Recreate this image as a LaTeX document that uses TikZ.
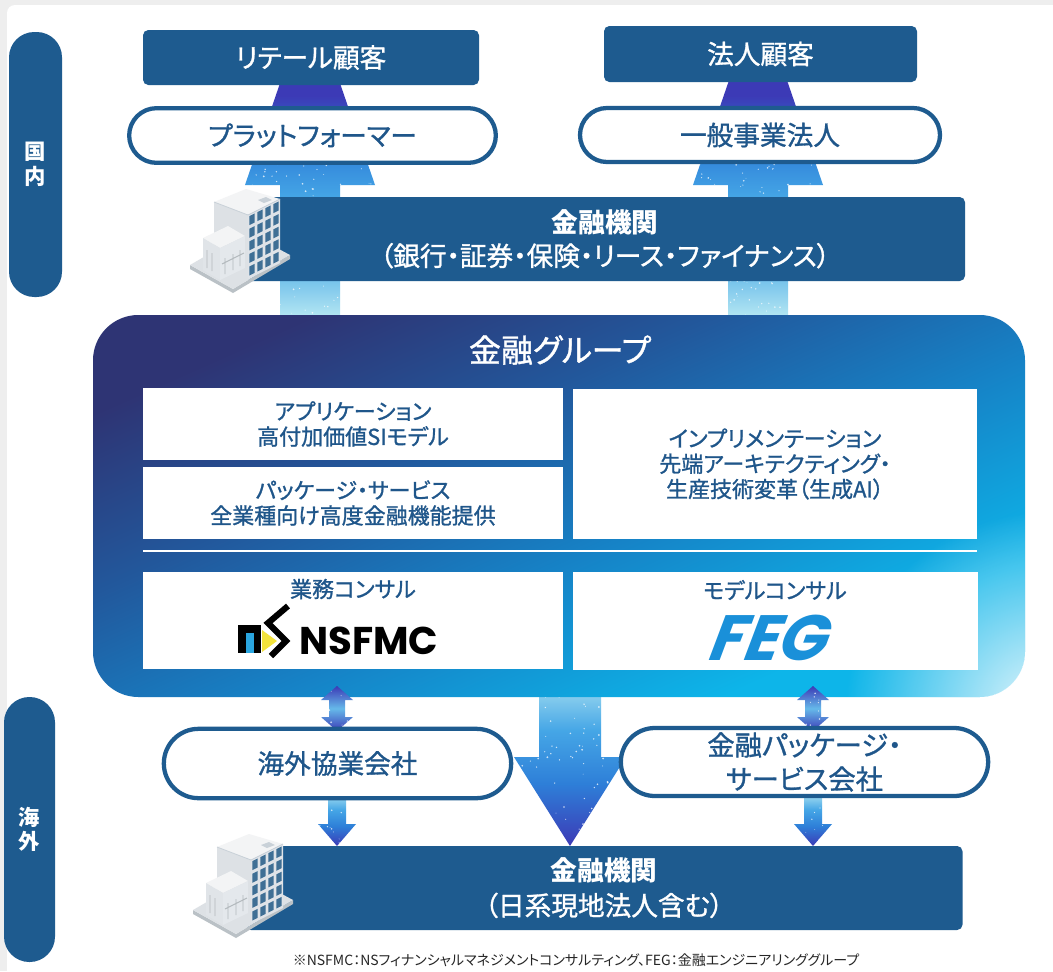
\documentclass[tikz,border=0pt]{standalone}
\usepackage{fontspec}
\setmainfont{Noto Sans CJK JP}[RawFeature=+palt]
\newfontfamily\medfont{Noto Sans CJK JP}[RawFeature=+palt, RawFeature={embolden=1.1}]
\newfontfamily\logofont{Poppins}
\usetikzlibrary{shapes.misc,fadings}

\definecolor{navy}{HTML}{1E5B8F}
\definecolor{inktext}{HTML}{1F568A}
\definecolor{pagegray}{HTML}{EEEEEE}
\definecolor{flowIndigo}{HTML}{3C3AB6}
\definecolor{flowBlue}{HTML}{2E7FD8}
\definecolor{flowSky}{HTML}{45A6E6}
\definecolor{flowPale}{HTML}{B3E6F2}
\definecolor{grpA}{HTML}{2E3474}
\definecolor{grpB}{HTML}{22589C}
\definecolor{grpC}{HTML}{1682C6}
\definecolor{grpD}{HTML}{0DB5E9}
\definecolor{fegblue}{HTML}{1A90D9}
\definecolor{nsyellow}{HTML}{F3E33B}
\definecolor{nscyan}{HTML}{2AA6E0}
\definecolor{wallA}{HTML}{F3F4F5}
\definecolor{wallB}{HTML}{DDE1E5}
\definecolor{wallC}{HTML}{C9D1D8}
\definecolor{glass}{HTML}{3F6F95}

% flow shadings (TikZ maps 25bp..75bp onto the path)
\pgfdeclareverticalshading{upflow}{100bp}{color(0bp)=(flowPale); color(25bp)=(flowPale); color(32bp)=(flowSky!55!flowPale); color(48bp)=(flowSky); color(58bp)=(flowBlue); color(68bp)=(flowIndigo); color(100bp)=(flowIndigo)}
\pgfdeclareverticalshading{downflow}{100bp}{color(0bp)=(flowIndigo); color(25bp)=(flowIndigo); color(45bp)=(flowBlue); color(62bp)=(flowSky); color(75bp)=(flowPale!70!flowSky); color(100bp)=(flowPale!70!flowSky)}
\pgfdeclareverticalshading{twoway}{100bp}{color(0bp)=(flowIndigo); color(25bp)=(flowIndigo); color(50bp)=(flowSky!70!flowPale); color(75bp)=(flowIndigo); color(100bp)=(flowIndigo)}
\pgfdeclarehorizontalshading{grpshade}{100bp}{color(0bp)=(grpA); color(25bp)=(grpA); color(40bp)=(grpB); color(55bp)=(grpC); color(72bp)=(grpD); color(100bp)=(grpD)}
\tikzfading[name=glowfade, inner color=transparent!10, outer color=transparent!100]

\newcommand\sizeBig{\medfont\fontsize{20}{25}\selectfont}
\newcommand\sizePanel{\medfont\fontsize{16.5}{19}\selectfont}
\newcommand\headword[1]{{\rmfamily\bfseries #1}}

% white speckles inside a clipped arrow: x1 y1 x2 y2 count
\newcommand\sprinkle[5]{%
  \foreach \k in {1,...,#5}{%
    \pgfmathsetmacro\spx{(#1)+rnd*((#3)-(#1))}%
    \pgfmathsetmacro\spy{(#2)+rnd*((#4)-(#2))}%
    \pgfmathsetmacro\spr{0.3+0.45*rnd}%
    \fill[white, opacity=0.75] (\spx,\spy) circle[radius=\spr pt];
  }}

\newcommand\upflowshape[1]{(#1-30,316) -- (#1-30,185) -- (#1-65,185) -- (#1-22,60) -- (#1+22,60) -- (#1+65,185) -- (#1+30,185) -- (#1+30,316) -- cycle}
\newcommand\twowayshape[1]{(#1,686) -- (#1+16,700) -- (#1+8,700) -- (#1+8,717) -- (#1+16,717) -- (#1,731) -- (#1-16,717) -- (#1-8,717) -- (#1-8,700) -- (#1-16,700) -- cycle}
\newcommand\downsmallshape[1]{(#1-9,797) -- (#1-9,824) -- (#1-19,824) -- (#1,846) -- (#1+19,824) -- (#1+9,824) -- (#1+9,797) -- cycle}
\newcommand\downbigshape[1]{(#1-31,690) -- (#1-31,757) -- (#1-56,757) -- (#1,846) -- (#1+56,757) -- (#1+31,757) -- (#1+31,690) -- cycle}

% isometric office building, drawn at the upper position
\newcommand\officebuilding{%
  % ground slab
  \fill[wallC!80!gray] (190,265) -- (190,269) -- (233,293) -- (290,259) -- (290,255) -- (233,289) -- cycle;
  \fill[wallB] (190,265) -- (233,289) -- (290,255) -- (247,232) -- cycle;
  % tower
  \fill[wallA] (214,202) -- (246,189) -- (280,199) -- (248,215) -- cycle;
  \fill[wallB] (214,202) -- (248,215) -- (248,279) -- (214,263) -- cycle;
  \fill[wallC!60!white] (248,215) -- (280,199) -- (280,263) -- (248,279) -- cycle;
  \fill[wallC] (258,200) -- (266,197) -- (272,200) -- (264,203) -- cycle;
  \foreach \i in {0,...,3}{\foreach \j in {0,...,4}{%
    \fill[glass] ({248+8*\i+1.3},{215-4*\i-0.65+12.6*\j+1.8}) -- ({248+8*\i+6.7},{215-4*\i-3.35+12.6*\j+1.8}) -- ({248+8*\i+6.7},{215-4*\i-3.35+12.6*\j+10.8}) -- ({248+8*\i+1.3},{215-4*\i-0.65+12.6*\j+10.8}) -- cycle;}}
  \draw[wallC, line width=0.6pt] (214,202) -- (248,215) -- (280,199);
  % lobby wing
  \fill[wallA] (203,238) -- (228,226) -- (245,236) -- (220,248) -- cycle;
  \fill[wallB!90!white] (203,238) -- (220,248) -- (220,280) -- (203,270) -- cycle;
  \fill[wallC!50!white] (220,248) -- (245,236) -- (245,268) -- (220,280) -- cycle;
  \draw[wallC!70!gray, line width=0.7pt] (207,250) -- (207,268) (212,253) -- (212,271) (225,258) -- (225,274) (233,254) -- (233,270) (240,250) -- (240,266) (222,264) -- (244,253);
}

\begin{document}
\begin{tikzpicture}[x=0.75pt,y=-0.75pt,
  darkbox/.style={rectangle, rounded corners=4pt, fill=navy, text=white, inner sep=0pt, align=center, font=\sizeBig},
  pill/.style={rounded rectangle, draw=navy, line width=3.2pt, fill=white, text=inktext, inner sep=0pt, align=center, font=\sizeBig},
  sidetag/.style={rectangle, rounded corners=19pt, fill=navy, text=white, inner sep=0pt, align=center, font=\bfseries\fontsize{16}{18.5}\selectfont},
  panel/.style={rectangle, fill=white, text=inktext, inner sep=0pt, align=center, font=\sizePanel},
  grpbox/.style={rectangle, rounded corners=34pt, shading=grpshade, shading angle=-66, inner sep=0pt},
  flowfill/.style={shading=#1}]

\useasboundingbox (0,0) rectangle (1053,971);
\pgfmathsetseed{42}

% page
\fill[pagegray] (0,0) rectangle (1053,971);
\fill[white, rounded corners=6pt] (7,5) rectangle (1080,1000);

% upward flows towards the customers
\foreach \cx in {310,758}{%
  \path[flowfill=upflow] \upflowshape{\cx};
  \begin{scope}
    \clip \upflowshape{\cx};
    \sprinkle{\cx-65}{140}{\cx+65}{316}{170}
  \end{scope}}

% downward flow to overseas institutions
\path[flowfill=downflow] \downbigshape{570};
\begin{scope}
  \clip \downbigshape{570};
  \sprinkle{514}{690}{626}{846}{110}
\end{scope}

% financial group block
\node[grpbox, minimum width=699pt, minimum height=286.5pt] (group) at (559,506) {};
\begin{scope}
  \clip[rounded corners=34pt] (group.north west) rectangle (group.south east);
  \fill[white, path fading=glowfade] (1045,712) circle[radius=150pt];
\end{scope}
\node[text=white, font=\medfont\fontsize{24}{28}\selectfont] (grouptitle) at (560,350) {金融グループ};

\node[panel, minimum width=315pt, minimum height=54pt] (appl) at (353,424) {アプリケーション\\高付加価値SIモデル};
\node[panel, minimum width=315pt, minimum height=54pt] (pkg) at (353,503) {パッケージ・サービス\\全業種向け高度金融機能提供};
\node[panel, minimum width=303pt, minimum height=112.5pt] (impl) at (775,464) {インプリメンテーション\\先端アーキテクティング・\\生産技術変革（生成AI）};
\coordinate (sepL) at (143,551);
\coordinate (sepR) at (977,551);
\draw[white, line width=1.1pt] (sepL) -- (sepR);
\node[panel, minimum width=315pt, minimum height=72.75pt] (bizcon) at (353,620.5) {};
\node[panel, minimum width=303.75pt, minimum height=73.5pt] (modcon) at (775.5,621) {};
\node[text=inktext, font=\sizePanel, inner sep=0pt] (bizconlabel) at (353,589) {業務コンサル};
\node[text=inktext, font=\sizePanel, inner sep=0pt] (modconlabel) at (775,590) {モデルコンサル};

% NSFMC mark
\fill[black] (238,625) rectangle (261,653);
\fill[nscyan] (246,633) rectangle (254,653);
\fill[nsyellow] (262,630) -- (277,641) -- (262,652) -- cycle;
\draw[black, line width=4.6pt, line join=miter] (288,606) -- (268,623) -- (286,641) -- (271,656);
\node[font=\logofont\bfseries\fontsize{29}{29}\selectfont, anchor=west, inner sep=0pt] (nsfmcword) at (299,641) {NSFMC};
% FEG mark
\node[font=\logofont\bfseries\itshape\fontsize{48}{48}\selectfont, text=fegblue, inner sep=0pt, xslant=0.2] (fegmark) at (772,638) {FEG};

% two-way links and feeds below the group
\foreach \cx in {337,813}{%
  \path[flowfill=twoway] \twowayshape{\cx};
  \path[flowfill=downflow] \downsmallshape{\cx};
  \begin{scope}
    \clip \twowayshape{\cx};
    \sprinkle{\cx-16}{686}{\cx+16}{731}{18}
  \end{scope}
  \begin{scope}
    \clip \downsmallshape{\cx};
    \sprinkle{\cx-19}{797}{\cx+19}{846}{22}
  \end{scope}}

% domestic side
\node[sidetag, minimum width=39.75pt, minimum height=198.75pt] (domestic) at (35.5,164.5) {国\\内};
\node[darkbox, minimum width=252pt, minimum height=41.25pt] (retail) at (311,57.5) {リテール顧客};
\node[darkbox, minimum width=234.75pt, minimum height=42pt] (corporate) at (760.5,54) {法人顧客};
\node[pill, minimum width=275pt, minimum height=41pt] (platformer) at (312.5,135.5) {プラットフォーマー};
\node[pill, minimum width=270pt, minimum height=40.5pt] (general) at (760,135) {一般事業法人};
\node[darkbox, minimum width=540pt, minimum height=63pt] (fininst) at (605,239) {\headword{金融機関}\\（銀行・証券・保険・リース・ファイナンス）};
\officebuilding

% overseas side
\node[sidetag, minimum width=38.25pt, minimum height=198.75pt] (overseas) at (29.5,829.5) {海\\外};
\node[pill, minimum width=260.5pt, minimum height=52pt] (ovpartner) at (337.5,763.5) {海外協業会社};
\node[pill, minimum width=275.5pt, minimum height=51pt, font=\medfont\fontsize{20.5}{25.5}\selectfont] (pkgco) at (804.5,762) {金融パッケージ・\\サービス会社};
\node[darkbox, minimum width=537.75pt, minimum height=63pt, font=\medfont\fontsize{20}{26}\selectfont] (fininst2) at (604,888) {\headword{金融機関}\\（日系現地法人含む）};
\begin{scope}[shift={(3,645)}]
  \officebuilding
\end{scope}

\node[text=black!85, font=\fontsize{10.5}{12}\selectfont, inner sep=0pt] (note) at (576,960) {※NSFMC：NSフィナンシャルマネジメントコンサルティング、FEG：金融エンジニアリンググループ};

\end{tikzpicture}
\end{document}
